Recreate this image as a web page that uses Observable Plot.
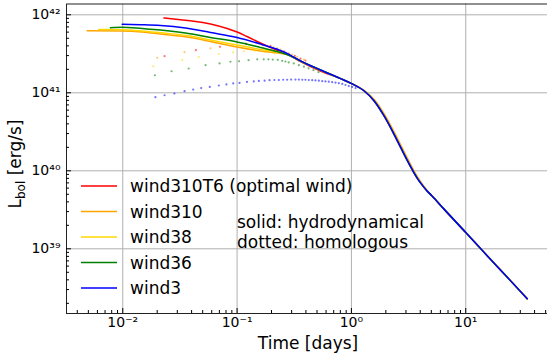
<!DOCTYPE html>
<html><head><meta charset="utf-8">
<script src="https://cdn.jsdelivr.net/npm/d3@7"></script>
<script src="https://cdn.jsdelivr.net/npm/@observablehq/plot@0.6"></script>
<style>
html,body{margin:0;padding:0;background:#fff;overflow:hidden;}
svg{font-family:"DejaVu Sans",sans-serif;}
</style></head><body><div id="chart"></div>
<script>
// ---- series ----
const names = ["wind310T6 (optimal wind)", "wind310", "wind38", "wind36", "wind3"];
const colors = ["red", "orange", "gold", "green", "blue"];

// solid: hydrodynamical (early part), time [days], L_bol [erg/s]
const hydT_310T6 = [0.0229, 0.0320, 0.0418, 0.0585, 0.0818, 0.100, 0.122, 0.160, 0.209, 0.274, 0.359, 0.537];
const hydL_310T6 = [9.1e41, 8.63e41, 8.28e41, 7.62e41, 6.67e41, 6.02e41, 5.27e41, 4.35e41, 3.66e41, 3.14e41, 2.52e41, 1.90e41];
const hydT_310 = [0.00488, 0.00988, 0.0148, 0.0214, 0.0391, 0.0585, 0.100, 0.160, 0.274, 0.313, 0.359, 0.537];
const hydL_310 = [6.23e41, 6.2e41, 6.02e41, 5.67e41, 5.12e41, 4.55e41, 3.87e41, 3.43e41, 3.10e41, 2.84e41, 2.56e41, 1.96e41];
const hydT_38 = [0.00617, 0.00988, 0.0148, 0.0214, 0.0391, 0.0585, 0.100, 0.160, 0.274, 0.313, 0.359, 0.537];
const hydL_38 = [6.48e41, 6.44e41, 6.20e41, 5.88e41, 5.35e41, 4.75e41, 4.10e41, 3.59e41, 3.14e41, 2.84e41, 2.56e41, 1.96e41];
const hydT_36 = [0.0078, 0.00988, 0.0148, 0.0214, 0.0354, 0.0585, 0.100, 0.160, 0.240, 0.313, 0.359, 0.537];
const hydL_36 = [6.85e41, 6.95e41, 6.67e41, 6.38e41, 5.84e41, 5.12e41, 4.48e41, 3.81e41, 3.29e41, 2.84e41, 2.56e41, 1.96e41];
const hydT_3 = [0.00988, 0.0143, 0.0214, 0.0354, 0.0585, 0.100, 0.160, 0.224, 0.274, 0.313, 0.359, 0.537];
const hydL_3 = [7.55e41, 7.46e41, 7.29e41, 6.77e41, 5.93e41, 5.12e41, 4.22e41, 3.61e41, 3.19e41, 2.86e41, 2.57e41, 1.96e41];

// common late-time decline (all models overlap)
const lateT = [0.804, 1.016, 1.28, 1.57, 1.92, 2.35, 2.69, 3.08, 3.52, 3.80, 4.15, 4.55, 5.05, 6.43, 9.96, 15.4, 23.1, 34.5];
const lateL = [1.52e41, 1.30e41, 1.07e41, 7.96e40, 5.12e40, 2.98e40, 2.01e40, 1.36e40, 9.5e39, 7.9e39, 6.6e39, 5.6e39, 4.8e39, 3.25e39, 1.63e39, 8.17e38, 4.32e38, 2.29e38];
// wind310 runs slightly later through the steep drop
const lateT_310 = [0.804, 1.016, 1.30, 1.61, 1.97, 2.41, 2.76, 3.16, 3.60, 3.88, 4.22, 4.60, 5.08, 6.43, 9.96, 15.4, 23.1, 34.5];

// dotted: homologous
const homT_310T6 = [0.0232, 0.0436, 0.0708, 0.120, 0.167, 0.196, 0.224, 0.257, 0.283, 0.320, 0.359, 0.396];
const homL_310T6 = [2.95e41, 3.52e41, 3.89e41, 4.22e41, 4.10e41, 4.0e41, 3.70e41, 3.41e41, 3.19e41, 2.98e41, 2.75e41, 2.59e41];
const homT_310 = [0.0200, 0.0347, 0.0585, 0.0925, 0.120, 0.154, 0.209, 0.240, 0.265, 0.303, 0.336, 0.384];
const homL_310 = [2.81e41, 3.32e41, 3.72e41, 4.12e41, 4.32e41, 4.29e41, 3.84e41, 3.59e41, 3.29e41, 3.10e41, 2.90e41, 2.67e41];
const homT_38 = [0.0185, 0.0331, 0.0462, 0.0692, 0.0925, 0.115, 0.142, 0.174, 0.212];
const homL_38 = [2.19e41, 2.63e41, 2.88e41, 3.14e41, 3.30e41, 3.41e41, 3.45e41, 3.33e41, 3.19e41];
const homT_36 = [0.0191, 0.0267, 0.0377, 0.0530, 0.0702, 0.0875, 0.104, 0.126, 0.150, 0.171, 0.188, 0.205, 0.227, 0.248, 0.265, 0.283, 0.313, 0.347, 0.384, 0.422, 0.466, 0.515];
const homL_36 = [1.68e41, 1.89e41, 2.05e41, 2.26e41, 2.38e41, 2.50e41, 2.54e41, 2.62e41, 2.69e41, 2.69e41, 2.69e41, 2.67e41, 2.65e41, 2.57e41, 2.52e41, 2.45e41, 2.38e41, 2.26e41, 2.16e41, 2.06e41, 1.95e41, 1.84e41];
const homT_3 = [0.0193, 0.0232, 0.0283, 0.0347, 0.0413, 0.0485, 0.0577, 0.0692, 0.0807, 0.0925, 0.105, 0.122, 0.140, 0.155, 0.174, 0.192, 0.212, 0.232, 0.253, 0.274, 0.297, 0.324, 0.347, 0.372, 0.396, 0.424, 0.454, 0.485, 0.519, 0.556, 0.593, 0.634, 0.679, 0.726, 0.776, 0.832, 0.887, 0.948, 1.016, 1.087];
const homL_3 = [8.8e40, 9.3e40, 9.8e40, 1.05e41, 1.10e41, 1.15e41, 1.19e41, 1.24e41, 1.28e41, 1.32e41, 1.34e41, 1.38e41, 1.40e41, 1.42e41, 1.43e41, 1.45e41, 1.46e41, 1.46e41, 1.47e41, 1.47e41, 1.48e41, 1.48e41, 1.48e41, 1.47e41, 1.47e41, 1.46e41, 1.45e41, 1.44e41, 1.43e41, 1.41e41, 1.40e41, 1.39e41, 1.37e41, 1.35e41, 1.33e41, 1.30e41, 1.26e41, 1.22e41, 1.19e41, 1.15e41];

// ---- ticks ----
const xMajor = [0.01, 0.1, 1, 10];
const yMajor = [1e39, 1e40, 1e41, 1e42];
const xDomain = [0.00322, 51.9];
const yDomain = [1.481e38, 1.376e42];
const xMinor = [], yMinor = [];
for (let e = -3; e <= 1; e++) for (let m = 2; m <= 9; m++) { const v = m * 10 ** e; if (v >= xDomain[0] && v <= xDomain[1]) xMinor.push(v); }
for (let e = 38; e <= 41; e++) for (let m = 2; m <= 9; m++) { const v = m * 10 ** e; if (v >= yDomain[0] && v <= yDomain[1]) yMinor.push(v); }
const supMap = {"-": "\u207B", "0": "\u2070", "1": "\u00B9", "2": "\u00B2", "3": "\u00B3", "4": "\u2074", "5": "\u2075", "6": "\u2076", "7": "\u2077", "8": "\u2078", "9": "\u2079"};
const pow10 = v => "10" + String(Math.round(Math.log10(v))).split("").map(c => supMap[c]).join("");

// ---- build tables ----
const hydT = [hydT_310T6.concat(lateT), hydT_310.concat(lateT_310), hydT_38.concat(lateT), hydT_36.concat(lateT), hydT_3.concat(lateT)];
const hydL = [hydL_310T6.concat(lateL), hydL_310.concat(lateL), hydL_38.concat(lateL), hydL_36.concat(lateL), hydL_3.concat(lateL)];
const homT = [homT_310T6, homT_310, homT_38, homT_36, homT_3];
const homL = [homL_310T6, homL_310, homL_38, homL_36, homL_3];
const toRows = (ts, ls) => ts.map((t, i) => ({t, L: ls[i]}));

const marks = [
  Plot.ruleX(xMajor, {stroke: "#b0b0b0", strokeWidth: 1}),
  Plot.ruleY(yMajor, {stroke: "#b0b0b0", strokeWidth: 1})
];
names.forEach((n, i) => {
  marks.push(Plot.line(toRows(hydT[i], hydL[i]), {x: "t", y: "L", stroke: colors[i], strokeWidth: 1.5, curve: "monotone-x"}));
  marks.push(Plot.dot(toRows(homT[i], homL[i]), {x: "t", y: "L", r: 1.1, fill: colors[i], fillOpacity: 0.55, stroke: "none"}));
});
marks.push(
  Plot.frame({stroke: "#222", strokeWidth: 1, insetRight: -3}),
  Plot.axisX({ticks: xMajor, tickSize: -5, tickFormat: () => "", label: null}),
  Plot.axisX({ticks: xMinor, tickSize: -3, tickFormat: () => "", label: null}),
  Plot.axisX({ticks: xMajor, tickSize: 0, tickPadding: 4, tickFormat: pow10, fontSize: 14, label: null}),
  Plot.axisY({ticks: yMajor, tickSize: -5, tickFormat: () => "", label: null}),
  Plot.axisY({ticks: yMinor, tickSize: -3, tickFormat: () => "", label: null}),
  Plot.axisY({ticks: yMajor, tickSize: 0, tickPadding: 6, tickFormat: pow10, fontSize: 14, label: null})
);

const chart = Plot.plot({
  width: 547, height: 361,
  marginLeft: 66, marginRight: 0, marginTop: 3.5, marginBottom: 48,
  style: {fontFamily: "DejaVu Sans", fontSize: "14px", color: "black", background: "white"},
  x: {type: "log", domain: xDomain},
  y: {type: "log", domain: yDomain},
  marks
});
document.getElementById("chart").appendChild(chart);

// ---- labels, legend and note ----
const svg = d3.select(chart);
svg.append("text").attr("x", 308).attr("y", 349).attr("text-anchor", "middle")
  .attr("font-size", 17).attr("fill", "black").text("Time [days]");
const yl = svg.append("text").attr("transform", "translate(21,164) rotate(-90)")
  .attr("text-anchor", "middle").attr("font-size", 17).attr("fill", "black");
yl.append("tspan").text("L");
yl.append("tspan").attr("font-size", 12).attr("dy", 4).text("bol");
yl.append("tspan").attr("dy", -4).text(" [erg/s]");

const rowsY = [186, 211.5, 237, 262.5, 288];
names.forEach((n, i) => {
  svg.append("line").attr("x1", 81).attr("x2", 117).attr("y1", rowsY[i]).attr("y2", rowsY[i])
    .attr("stroke", colors[i]).attr("stroke-width", 1.5);
  svg.append("text").attr("x", 130).attr("y", rowsY[i] + 6.3).attr("text-anchor", "start")
    .attr("font-size", 17).attr("fill", "black").text(n);
});
svg.append("text").attr("x", 237).attr("y", 228).attr("text-anchor", "start").attr("font-size", 17).attr("fill", "black").text("solid: hydrodynamical");
svg.append("text").attr("x", 237).attr("y", 248).attr("text-anchor", "start").attr("font-size", 17).attr("fill", "black").text("dotted: homologous");
</script></body></html>
